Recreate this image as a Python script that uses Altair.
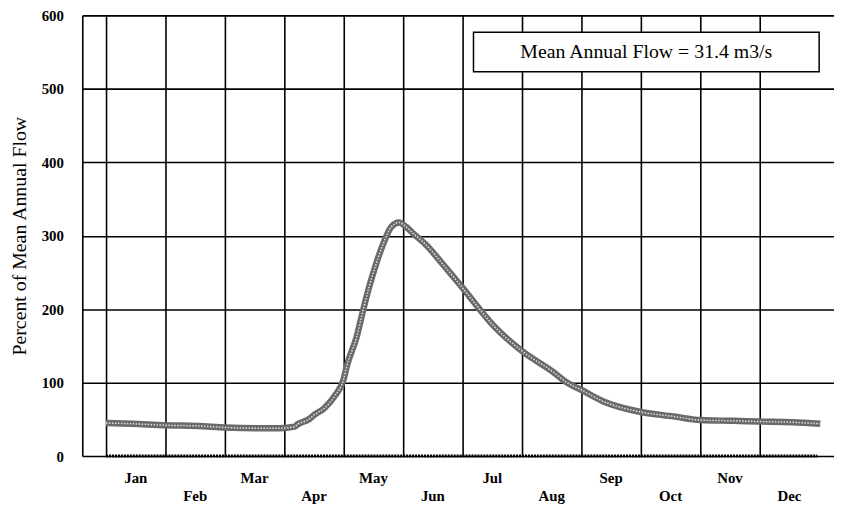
import altair as alt
import pandas as pd

# Flow curve (percent of mean annual flow), x in months from Jan 1
flow_month = [0.0, 0.43, 1.0, 1.55, 2.0, 2.55, 2.93, 3.17, 3.22, 3.43, 3.5, 3.67, 3.85,
              4.0, 4.05, 4.22, 4.33, 4.43, 4.55, 4.67, 4.8, 4.93, 5.05, 5.17, 5.38,
              5.68, 6.0, 6.55, 7.0, 7.55, 7.72, 8.0, 8.38, 9.0, 9.55, 10.0, 10.55,
              11.0, 11.55, 12.02]
flow_value = [45, 44, 42, 41, 39, 38, 38, 40, 43, 51, 56, 65, 82,
              105, 122, 163, 200, 231, 263, 290, 312, 318, 312, 303, 288,
              260, 229, 175, 143, 113, 102, 90, 74, 60, 54, 49, 48,
              47, 46, 44]

zero_month = [0.0, 11.97]
zero_value = [0, 0]

month_names = ["Jan", "Feb", "Mar", "Apr", "May", "Jun",
               "Jul", "Aug", "Sep", "Oct", "Nov", "Dec"]
y_ticks = [0, 100, 200, 300, 400, 500, 600]
annotation = "Mean Annual Flow = 31.4 m3/s"

W, H = 759, 445
FONT = "Liberation Serif"

flow_df = pd.DataFrame({"month": flow_month, "value": flow_value})
zero_df = pd.DataFrame({"month": zero_month, "value": zero_value})
lab_df = pd.DataFrame({"name": month_names,
                       "month": [i + 0.5 for i in range(12)],
                       "row": [i % 2 for i in range(12)]})

xscale = alt.Scale(domain=[-0.4, 12.25], nice=False, zero=False)
yscale = alt.Scale(domain=[0, 600], nice=False)

xaxis = alt.Axis(values=list(range(12)), grid=True, labels=False, ticks=False,
                 domain=False, title=None, gridColor="black", gridWidth=1.6,
                 gridOpacity=1)
yaxis = alt.Axis(values=y_ticks, grid=True, gridColor="black", gridWidth=1.6,
                 gridOpacity=1, domain=True, domainColor="black", domainWidth=1.6,
                 ticks=False, labelPadding=19, labelFont=FONT, labelFontSize=15,
                 labelFontWeight="bold", labelColor="black",
                 title="Percent of Mean Annual Flow", titleFont=FONT,
                 titleFontSize=20, titleFontWeight="normal", titleColor="black",
                 titlePadding=12)

X = alt.X("month:Q", scale=xscale, axis=xaxis)
Y = alt.Y("value:Q", scale=yscale, axis=yaxis)

base_line = alt.Chart(flow_df).mark_line(color="#6a6a6a", strokeWidth=6.5,
                                         interpolate="monotone").encode(x=X, y=Y)

texture = alt.Chart(flow_df).mark_line(color="white", strokeWidth=1.5, interpolate="monotone",
                                       strokeDash=[1.5, 1.5], opacity=0.8).encode(x=X, y=Y)

zero_line = alt.Chart(zero_df).mark_line(color="black", strokeWidth=3,
                                         strokeDash=[2, 1]).encode(x=X, y=Y)

labels_top = alt.Chart(lab_df).transform_filter("datum.row == 0").mark_text(
    font=FONT, fontSize=15, fontWeight="bold", color="black", baseline="middle"
).encode(x=X, y=alt.value(H + 22), text="name:N")

labels_bot = alt.Chart(lab_df).transform_filter("datum.row == 1").mark_text(
    font=FONT, fontSize=15, fontWeight="bold", color="black", baseline="middle"
).encode(x=X, y=alt.value(H + 40), text="name:N")

box = alt.Chart(pd.DataFrame({"t": [annotation]})).mark_rect(
    fill="white", stroke="black", strokeWidth=1.5
).encode(x=alt.value(395), x2=alt.value(744), y=alt.value(17), y2=alt.value(57))

box_text = alt.Chart(pd.DataFrame({"t": [annotation]})).mark_text(
    font=FONT, fontSize=20, color="black", align="center", baseline="middle"
).encode(x=alt.value(569.5), y=alt.value(37), text="t:N")

chart = alt.layer(base_line, texture, zero_line, labels_top, labels_bot, box, box_text).properties(
    width=W, height=H,
    autosize=alt.AutoSizeParams(type="none"),
    padding={"left": 75, "top": 5, "right": 0, "bottom": 50},
).configure_view(stroke=None).configure(background="white")

chart.save("out.html", embed_options={"renderer": "svg", "actions": False})
